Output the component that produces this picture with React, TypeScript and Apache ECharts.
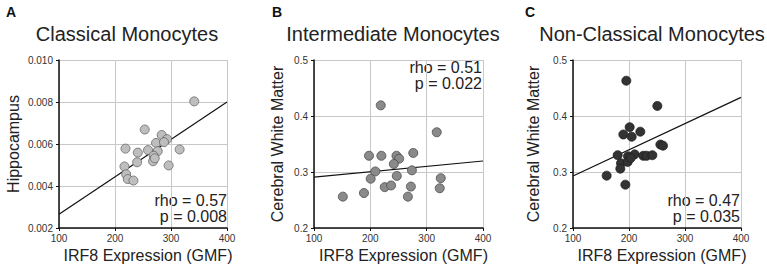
import React, { useEffect, useRef } from "react";
import * as echarts from "echarts";

const xTicks = [100, 200, 300, 400];
const panelLetters = ["A", "B", "C"];
const panelTitles = ["Classical Monocytes", "Intermediate Monocytes", "Non-Classical Monocytes"];
const yNames = ["Hippocampus", "Cerebral White Matter", "Cerebral White Matter"];
const xName = "IRF8 Expression (GMF)";
const rhoTexts = ["rho = 0.57", "rho = 0.51", "rho = 0.47"];
const pTexts = ["p = 0.008", "p = 0.022", "p = 0.035"];

const classicalX = [341.5, 253.1, 218.7, 240.7, 259, 273.3, 283.4, 292.9, 287.5, 276.3, 269.1, 268, 239.5, 216.9, 219.9, 222.8, 232.9, 295.8, 315.4, 271];
const classicalY = [0.00803, 0.00669, 0.00578, 0.00559, 0.00571, 0.00605, 0.00643, 0.00623, 0.00609, 0.00566, 0.00544, 0.00518, 0.00513, 0.00493, 0.00456, 0.00433, 0.00426, 0.00498, 0.00574, 0.00532];
const classicalFitX = [100, 400];
const classicalFitY = [0.00266, 0.0080];

const intermediateX = [151.2, 188.7, 218.5, 197.6, 219.6, 246.4, 251.2, 276.2, 241.7, 208.9, 200.6, 225.6, 236.9, 247, 273.8, 272, 266.7, 317.9, 325, 323.2];
const intermediateY = [0.256, 0.2625, 0.419, 0.329, 0.329, 0.329, 0.3238, 0.334, 0.3143, 0.301, 0.288, 0.273, 0.276, 0.293, 0.303, 0.274, 0.256, 0.371, 0.289, 0.271];
const intermediateFitX = [100, 400];
const intermediateFitY = [0.291, 0.3196];

const nonClassicalX = [195.2, 250.6, 201.2, 189.9, 204.8, 220.2, 256, 260.7, 179.8, 198.2, 210.1, 225.6, 231.5, 241.7, 185.7, 197.6, 184.5, 160.1, 193.5, 203];
const nonClassicalY = [0.463, 0.418, 0.38, 0.367, 0.363, 0.372, 0.349, 0.347, 0.33, 0.328, 0.3315, 0.329, 0.329, 0.33, 0.3155, 0.318, 0.306, 0.2935, 0.2774, 0.325];
const nonClassicalFitX = [100, 400];
const nonClassicalFitY = [0.293, 0.4333];

const yRanges = [
  { min: 0.002, max: 0.01, interval: 0.002, digits: 3 },
  { min: 0.2, max: 0.5, interval: 0.1, digits: 1 },
  { min: 0.2, max: 0.5, interval: 0.1, digits: 1 },
];

const FONT = "Liberation Sans, Arial, Helvetica, sans-serif";

export default function App() {
  const ref = useRef<HTMLDivElement>(null);
  useEffect(() => {
    if (!ref.current) return;
    const chart = echarts.init(ref.current, undefined, { renderer: "svg" });
    const grids = [
      { left: 59, top: 60, width: 168, height: 168 },
      { left: 314, top: 60, width: 169, height: 168 },
      { left: 573, top: 60, width: 168, height: 168 },
    ];
    const yGaps = [38, 29, 32];
    const pts = [
      [classicalX, classicalY],
      [intermediateX, intermediateY],
      [nonClassicalX, nonClassicalY],
    ];
    const fits = [
      [classicalFitX, classicalFitY],
      [intermediateFitX, intermediateFitY],
      [nonClassicalFitX, nonClassicalFitY],
    ];
    const fills = ["#bebebe", "#8a8a8a", "#333333"];
    const borders = ["#666666", "#4a4a4a", "#1e1e1e"];

    const xAxis = grids.map((_, i) => ({
      type: "value",
      gridIndex: i,
      min: xTicks[0],
      max: xTicks[xTicks.length - 1],
      interval: 100,
      name: xName,
      nameLocation: "middle",
      nameGap: 17,
      nameTextStyle: { fontSize: 16, color: "#222", fontFamily: FONT, padding: [0, 0, 0, 10] },
      axisLine: { show: true, lineStyle: { color: "#111", width: 1.5 } },
      axisTick: { show: true, length: 3, lineStyle: { color: "#111" } },
      axisLabel: { fontSize: 10, color: "#333", fontFamily: FONT, margin: 5 },
      splitLine: { show: true, lineStyle: { color: "#c8c8c8", width: 1 } },
    }));
    const yAxis = grids.map((_, i) => ({
      type: "value",
      gridIndex: i,
      min: yRanges[i].min,
      max: yRanges[i].max,
      interval: yRanges[i].interval,
      name: yNames[i],
      nameLocation: "middle",
      nameGap: yGaps[i],
      nameTextStyle: { fontSize: 16, color: "#222", fontFamily: FONT },
      axisLine: { show: true, lineStyle: { color: "#111", width: 1.5 } },
      axisTick: { show: true, length: 3, lineStyle: { color: "#111" } },
      axisLabel: {
        fontSize: 10,
        color: "#333",
        fontFamily: FONT,
        margin: 6,
        formatter: (v: number) => v.toFixed(yRanges[i].digits),
      },
      splitLine: { show: true, lineStyle: { color: "#c8c8c8", width: 1 } },
    }));

    const series: any[] = [];
    for (let i = 0; i < 3; i++) {
      series.push({
        type: "line",
        xAxisIndex: i,
        yAxisIndex: i,
        data: fits[i][0].map((x, k) => [x, fits[i][1][k]]),
        symbol: "none",
        lineStyle: { color: "#111", width: 1.2 },
        z: 2,
      });
      series.push({
        type: "scatter",
        xAxisIndex: i,
        yAxisIndex: i,
        data: pts[i][0].map((x, k) => [x, pts[i][1][k]]),
        symbolSize: 9,
        itemStyle: { color: fills[i], borderColor: borders[i], borderWidth: 0.8, opacity: 1 },
        z: 3,
      });
    }

    const letterX = [11, 277, 530];
    const titleX = [127, 393, 652];
    const statsRight = [227, 482, 740];
    const statsY = [
      [200, 216],
      [67, 83],
      [200, 216],
    ];
    const graphic: any[] = [];
    for (let i = 0; i < 3; i++) {
      graphic.push({
        type: "text",
        x: letterX[i],
        y: 12,
        style: { text: panelLetters[i], fontSize: 14, fontWeight: "bold", fill: "#111", font: `bold 14px ${FONT}`, align: "center", verticalAlign: "middle" },
      });
      graphic.push({
        type: "text",
        x: titleX[i],
        y: 33.5,
        style: { text: panelTitles[i], font: `20px ${FONT}`, fill: "#222", align: "center", verticalAlign: "middle" },
      });
      graphic.push({
        type: "text",
        x: statsRight[i],
        y: statsY[i][0],
        style: { text: rhoTexts[i], font: `16px ${FONT}`, fill: "#222", align: "right", verticalAlign: "middle" },
      });
      graphic.push({
        type: "text",
        x: statsRight[i],
        y: statsY[i][1],
        style: { text: pTexts[i], font: `16px ${FONT}`, fill: "#222", align: "right", verticalAlign: "middle" },
      });
    }

    chart.setOption({
      animation: false,
      backgroundColor: "#ffffff",
      textStyle: { fontFamily: FONT },
      grid: grids,
      xAxis,
      yAxis,
      series,
      graphic,
    });
    return () => chart.dispose();
  }, []);
  return (
    <div
      ref={ref}
      style={{ position: "fixed", left: 0, top: 0, width: 767, height: 269, background: "#fff" }}
    />
  );
}
